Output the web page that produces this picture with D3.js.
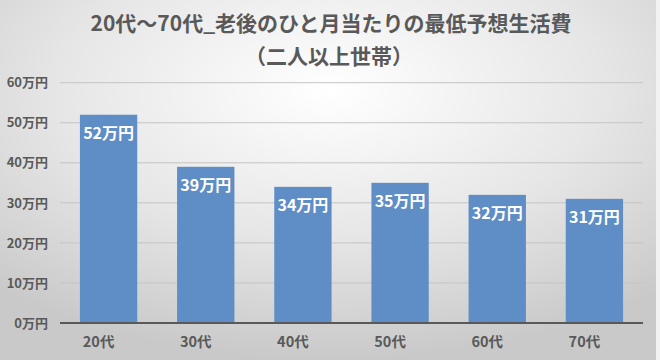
<!DOCTYPE html>
<html><head><meta charset="utf-8">
<script src="https://cdn.jsdelivr.net/npm/d3@7"></script>
<style>html,body{margin:0;padding:0;background:#fff;}svg{display:block;}</style>
</head><body>
<svg id="c" width="660" height="360"></svg>
<script>
const categories = ["20代","30代","40代","50代","60代","70代"];
const values = [52, 39, 34, 35, 32, 31];
const yTicks = [0,10,20,30,40,50,60];
const unit = "万円";
const titleLines = ["20代～70代_老後のひと月当たりの最低予想生活費","（二人以上世帯）"];

const svg = d3.select("#c");
const W = 660, H = 360;
const font = "'Noto Sans CJK JP','Noto Sans',sans-serif";

const defs = svg.append("defs");
const g = defs.append("radialGradient").attr("id","bg")
  .attr("cx","50%").attr("cy","25%").attr("r","75%");
g.append("stop").attr("offset","0%").attr("stop-color","#ffffff");
g.append("stop").attr("offset","55%").attr("stop-color","#e6e6e6");
g.append("stop").attr("offset","100%").attr("stop-color","#c9c9c9");
svg.append("rect").attr("width",W).attr("height",H).attr("fill","url(#bg)");
svg.append("rect").attr("x",656).attr("y",0).attr("width",4).attr("height",H).attr("fill","#f2f2f2");

const x = d3.scaleBand().domain(categories).range([60,643]).paddingInner(0.41).paddingOuter(0.205);
const y = d3.scaleLinear().domain([0,60]).range([323,82.7]);

// gridlines
svg.append("g").selectAll("line").data(yTicks.filter(d=>d>0)).join("line")
  .attr("x1",60).attr("x2",643).attr("y1",d=>y(d)).attr("y2",d=>y(d))
  .attr("stroke","#c4c4c4").attr("stroke-width",1);

// y axis labels
const yAxis = d3.axisLeft(y).tickValues(yTicks).tickSize(0).tickPadding(0).tickFormat(d=>d+unit);
const ya = svg.append("g").attr("transform","translate(48,0)").call(yAxis);
ya.select(".domain").remove();
ya.selectAll("text").attr("font-family",font).attr("font-size",13).attr("font-weight","bold").attr("fill","#595959");

// bars
svg.append("g").selectAll("rect").data(values).join("rect")
  .attr("x",(d,i)=>x(categories[i])).attr("width",x.bandwidth())
  .attr("y",d=>y(d)).attr("height",d=>y(0)-y(d)).attr("fill","#5f8dc6");

// value labels
svg.append("g").selectAll("text").data(values).join("text")
  .attr("x",(d,i)=>x(categories[i])+x.bandwidth()/2).attr("y",d=>y(d)+24)
  .attr("text-anchor","middle").attr("font-family",font).attr("font-size",16)
  .attr("font-weight","bold").attr("fill","#ffffff").text(d=>d+unit);

// x axis
const xAxis = d3.axisBottom(x).tickSize(0).tickPadding(0);
const xa = svg.append("g").attr("transform","translate(0,323)").call(xAxis);
xa.select(".domain").attr("stroke","#595959").attr("stroke-width",2).attr("d","M60,0H643");
xa.selectAll("text").attr("font-family",font).attr("font-size",14.5).attr("font-weight","bold")
  .attr("fill","#595959").attr("dy",0).attr("y",24).attr("dx",-10);

// title
svg.append("text").attr("x",331).attr("y",31).attr("text-anchor","middle")
  .attr("font-family",font).attr("font-size",21).attr("font-weight","bold").attr("fill","#595959")
  .text(titleLines[0]);
svg.append("text").attr("x",329).attr("y",64).attr("text-anchor","middle")
  .attr("font-family",font).attr("font-size",21).attr("font-weight","bold").attr("fill","#595959")
  .text(titleLines[1]);
</script>
</body></html>
